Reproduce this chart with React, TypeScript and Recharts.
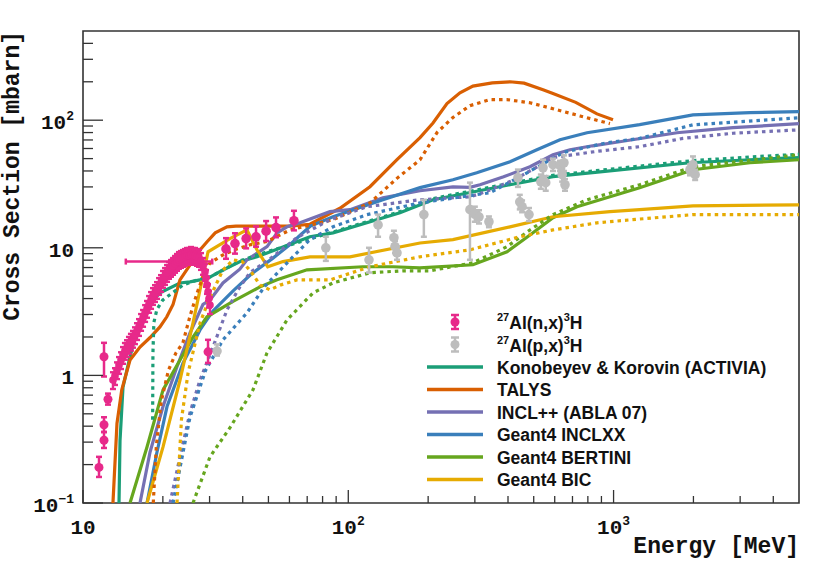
import { ComposedChart, Line, Scatter, XAxis, YAxis, ErrorBar, ReferenceArea } from 'recharts';

type Pt = [number, number];

// axis ticks
const xMajor = [10, 100, 1000];
const xMajorBase = ['10', '10', '10'];
const xMajorExp = ['', '2', '3'];
const xMinor = [20, 30, 40, 50, 60, 70, 80, 90, 200, 300, 400, 500, 600, 700, 800, 900, 2000, 3000, 4000];
const yMajor = [0.1, 1, 10, 100];
const yMajorBase = ['10', '1', '10', '10'];
const yMajorExp = ['\u22121', '', '', '2'];
const yMinor = [0.2, 0.3, 0.4, 0.5, 0.6, 0.7, 0.8, 0.9, 2, 3, 4, 5, 6, 7, 8, 9, 20, 30, 40, 50, 60, 70, 80, 90, 200, 300, 400];

// model curves: solid = (n,x), dotted = (p,x)
const activiaN: Pt[] = [[13.67, 0.1], [13.79, 0.31], [14.15, 0.81], [15.04, 1.4], [15.98, 2.27], [17.43, 3.45], [19.51, 4.43], [23.2, 5.3], [25.3, 5.4], [27.6, 5.6], [30.1, 5.9], [33.7, 6.7], [39.1, 7.8], [45.3, 8.5], [49.4, 9.1], [71.7, 12.2], [87.6, 13.1], [156.6, 18.8], [208.6, 23.8], [406.9, 31.2], [590.7, 36.1], [888.8, 39.4], [1941, 46.4], [3267, 49], [5000, 51]];
const activiaP: Pt[] = [[18.3, 0.45], [18.35, 1.5], [18.5, 2.6], [19.0, 3.3], [20, 3.9], [23.8, 5.1], [26.9, 5.6], [30.1, 5.9], [39.1, 7.9], [49.4, 9.3], [87.6, 13.3], [156.6, 19.2], [208.6, 24.3], [406.9, 32], [590.7, 37], [888.8, 40.5], [1941, 48], [3267, 51.5], [5000, 54]];
const talysN: Pt[] = [[12.97, 0.1], [13.43, 0.42], [14.0, 0.77], [15.04, 1.32], [16.4, 1.67], [17.9, 1.98], [19.5, 2.4], [20.7, 2.88], [21.85, 3.6], [23.2, 5.6], [27.6, 9.6], [29.3, 11.1], [31.5, 13.1], [34.9, 14.6], [37.7, 14.8], [46.5, 14.8], [60.3, 14.8], [71.7, 15.3], [93, 20.4], [120.7, 30.1], [152.6, 49], [186.4, 73], [208.6, 95], [235.5, 135], [263.6, 164], [295, 185], [349, 196], [407, 200], [460, 195], [542, 173], [591, 162], [720, 138], [866, 112], [995, 101]];
const talysP: Pt[] = [[18.4, 0.1], [18.9, 0.28], [19.7, 0.62], [21, 1.1], [22.4, 1.5], [23.8, 1.8], [25.3, 2.9], [26.9, 4.4], [28.3, 5.9], [30.1, 7.6], [33.7, 8.8], [38, 9.8], [43, 10.6], [49.4, 11.2], [60.3, 13.8], [87.6, 16.6], [120.7, 22.5], [152.6, 35], [186.4, 49], [216, 80], [248, 105], [287.5, 130], [342, 145], [396.5, 145], [484, 137], [590.7, 123], [747, 108], [969, 94]];
const inclN: Pt[] = [[16.4, 0.1], [17.89, 0.25], [20.03, 0.57], [22.61, 1.17], [25.31, 2.15], [28.34, 3.6], [30.1, 3.9], [33.7, 5.3], [39, 6.8], [41.5, 8.05], [49.4, 10.2], [53.9, 13.1], [58.75, 14.6], [65.77, 15.7], [85.3, 19.2], [101.5, 19.9], [135.1, 24.7], [186.4, 28], [248, 30], [287.5, 29.8], [313.6, 31.2], [385, 36], [484, 43.2], [591, 53.6], [685, 58.7], [833, 63], [1054, 67.8], [1734, 79.7], [2819, 87.4], [5000, 93.9]];
const inclP: Pt[] = [[21.28, 0.1], [23.21, 0.23], [25.31, 0.51], [27.61, 0.92], [30.9, 1.67], [34.9, 3.26], [38.4, 4.68], [42.6, 6.4], [50.7, 8.2], [64, 12], [85.3, 16.6], [117.6, 21], [186.4, 23.8], [287.5, 25.1], [330, 27.5], [420, 34], [515, 43], [591, 51], [866, 57], [1254, 62], [1827, 72], [2819, 79], [5000, 84]];
const inclxxN: Pt[] = [[17.43, 0.1], [19.0, 0.25], [20.74, 0.57], [23.82, 1.25], [27.61, 2.27], [30.9, 3.2], [36.8, 4.6], [43, 6.2], [52, 8.3], [60, 10.5], [66, 12.6], [72, 14.8], [87.6, 17.5], [135, 23.8], [186.4, 29.6], [248, 34.1], [305, 38.7], [407, 47.2], [514, 58.7], [628, 70.3], [794, 79.7], [1254, 92.2], [1992, 110], [3267, 114.6], [5000, 116.6]];
const inclxxP: Pt[] = [[21.85, 0.1], [25.31, 0.47], [29.0, 1.1], [33.7, 1.9], [41.5, 3.09], [48.2, 4.94], [60.3, 8.05], [71.7, 11.6], [87.6, 14.6], [117.6, 18.2], [186.4, 22.5], [342, 27], [443, 36], [650, 56], [944, 66.6], [1254, 72], [1992, 92], [5000, 104.6]];
const bertiniN: Pt[] = [[15.04, 0.1], [17.43, 0.275], [20.03, 0.77], [23.21, 1.32], [25.98, 2.0], [29.34, 2.88], [36.76, 3.8], [46.47, 4.94], [53.87, 5.61], [69.9, 6.72], [113.6, 7.1], [147.4, 7.1], [186, 6.97], [295, 7.36], [396.5, 9.3], [484, 12.6], [591, 17.2], [728, 21], [969, 25.1], [1254, 29.6], [1992, 40.9], [3267, 46.4], [5000, 49]];
const bertiniP: Pt[] = [[25.98, 0.1], [30.11, 0.23], [35.82, 0.39], [43.73, 0.77], [49.38, 1.5], [58.75, 2.72], [73.61, 4.43], [87.57, 5.31], [120.7, 6.37], [160, 6.6], [203, 6.6], [295, 7.63], [396.5, 10.2], [484, 13.8], [591, 18.2], [794, 23.8], [1254, 31.2], [1992, 43.2], [5000, 53.6]];
const bicN: Pt[] = [[17.43, 0.1], [20.03, 0.275], [23.21, 0.92], [25.98, 2.58], [27.61, 4.68], [29.6, 9.3], [35.8, 11.8], [41.5, 13.8], [45.3, 9.6], [49.7, 7.1], [56.7, 7.8], [71.7, 8.5], [101.5, 8.5], [186.4, 10.9], [248, 11.6], [407, 14.6], [591, 17.5], [969, 19.2], [1254, 19.9], [1992, 21.3], [5000, 21.7]];
const bicP: Pt[] = [[22.61, 0.1], [23.5, 0.45], [24.9, 1.05], [27.61, 2.58], [30.11, 4.1], [33.7, 6.7], [36.8, 8.05], [39.8, 7.8], [43, 6.5], [46.5, 5.1], [50.7, 4.68], [55.3, 5.1], [64, 5.6], [85.3, 5.6], [120.7, 7.1], [186, 8.5], [287.5, 9.64], [443, 12.2], [591, 13.8], [866, 15.7], [1254, 16.8], [1992, 18.2], [5000, 18.2]];

// 27Al(n,x)3H data
const nDense: Pt[] = [[12.97, 0.92], [13.2, 0.99], [13.43, 1.1], [13.67, 1.21], [13.91, 1.32], [14.15, 1.45], [14.39, 1.56], [14.65, 1.64], [14.9, 1.74], [15.16, 1.84], [15.43, 1.94], [15.7, 2.07], [15.98, 2.23], [16.26, 2.4], [16.55, 2.63], [16.84, 2.83], [17.14, 3.09], [17.43, 3.33], [17.74, 3.64], [18.05, 3.91], [18.36, 4.2], [18.68, 4.43], [19.01, 4.68], [19.35, 5.03], [19.68, 5.31], [20.03, 5.72], [20.38, 6.03], [20.74, 6.37], [21.1, 6.72], [21.47, 6.97], [21.85, 7.23], [22.23, 7.5], [22.61, 7.77], [23.0, 8.05], [23.41, 8.2], [23.82, 8.35], [24.24, 8.5], [24.66, 8.66], [25.09, 8.66], [25.53, 8.82], [25.98, 8.66], [26.43, 8.66], [26.9, 8.5], [27.37, 8.35], [27.85, 7.9], [28.34, 7.23], [28.83, 6.48], [29.09, 5.82], [29.34, 5.12], [29.6, 4.51], [29.85, 4.0], [30.11, 3.56]];
const nDenseRelErr = 0.15;
const nLow: Pt[] = [[11.49, 0.19], [12.0, 0.31], [12.0, 0.41], [12.42, 0.65], [12.0, 1.4], [29.6, 1.53]];
const nLowLo = [0.16, 0.27, 0.36, 0.59, 0.98, 1.25];
const nLowHi = [0.23, 0.36, 0.47, 0.72, 1.8, 1.9];
const nBig: Pt[] = [[34.6, 9.8], [37.4, 10.8], [41.2, 11.8], [44.9, 12.2], [49.0, 13.5], [53.4, 14.4], [62.4, 16.3]];
const nBigLo = [8.2, 9.0, 9.9, 10.2, 11.3, 12.1, 13.7];
const nBigHi = [11.9, 13.0, 14.2, 14.7, 16.2, 17.3, 19.5];
const nWide: Pt[] = [[21.5, 7.8]];
const nWideLo = [14.5];
const nWideHi = [30.7];

// 27Al(p,x)3H data
const pData: Pt[] = [[32.0, 1.55], [82.3, 10], [119.7, 8.05], [129.5, 15.1], [148.6, 12], [150, 10.2], [152.6, 9.14], [192.7, 18.2], [287.5, 19.9], [300, 18.3], [311, 17.5], [339, 16], [436, 35.4], [443, 22.9], [452, 21], [480, 18.2], [532, 32.9], [542, 42.4], [555, 32.4], [591, 44.8], [628, 44], [640, 37.4], [650, 46.4], [656, 31.2], [1941, 40.9], [1992, 44.8], [2030, 37.4]];
const pLo = [1.43, 7.9, 6.4, 12.2, 10.6, 9.1, 8.05, 12.2, 8.05, 16, 15.5, 14.5, 30, 20, 19, 16.2, 29, 35.4, 28, 40, 40, 33, 40, 28, 37, 40, 34];
const pHi = [1.75, 12.2, 10, 18.2, 13.6, 11.3, 10.2, 23.8, 32.4, 21, 19.7, 17.6, 41, 26, 23.5, 20.5, 37.5, 49, 36.5, 50, 48, 42, 53, 34.5, 45, 52, 41];

const PINK = '#e7298a';
const GRAY = '#bdbdbd';
const AX = '#333';
const MONO = '"Liberation Mono", "DejaVu Sans Mono", monospace';
const SANS = '"Liberation Sans", Arial, sans-serif';

const models = [
  { name: 'Konobeyev & Korovin (ACTIVIA)', color: '#1b9e77', n: activiaN, p: activiaP },
  { name: 'TALYS', color: '#d95f02', n: talysN, p: talysP },
  { name: 'INCL++ (ABLA 07)', color: '#7570b3', n: inclN, p: inclP },
  { name: 'Geant4 INCLXX', color: '#3a7fbb', n: inclxxN, p: inclxxP },
  { name: 'Geant4 BERTINI', color: '#66a61e', n: bertiniN, p: bertiniP },
  { name: 'Geant4 BIC', color: '#e6ab02', n: bicN, p: bicP },
];

const rows = (pts: Pt[]) => pts.map(([e, s]) => ({ e, s }));
const errRows = (pts: Pt[], lo: number[], hi: number[]) =>
  pts.map(([e, s], i) => ({ e, s, err: [s - lo[i], hi[i] - s] }));
const xErrRows = (pts: Pt[], lo: number[], hi: number[]) =>
  pts.map(([e, s], i) => ({ e, s, xerr: [e - lo[i], hi[i] - e] }));
const relRows = (pts: Pt[], r: number) => pts.map(([e, s]) => ({ e, s, err: [s * r, s * r] }));

const XTick = (props: any) => {
  const { x, y, payload } = props;
  const i = xMajor.indexOf(payload.value);
  const major = i >= 0;
  return (
    <g>
      <line x1={x} x2={x} y1={y} y2={y - (major ? 13 : 7)} stroke={AX} strokeWidth={1.3} />
      {major && (
        <text x={x} y={y + 31} textAnchor="middle" fontFamily={MONO} fontWeight="bold" fontSize={21} fill="#111">
          {xMajorBase[i]}
          {xMajorExp[i] && <tspan dy={-9} fontSize={13}>{xMajorExp[i]}</tspan>}
        </text>
      )}
    </g>
  );
};

const YTick = (props: any) => {
  const { x, y, payload } = props;
  const i = yMajor.indexOf(payload.value);
  const major = i >= 0;
  return (
    <g>
      <line x1={x} x2={x + (major ? 20 : 10)} y1={y} y2={y} stroke={AX} strokeWidth={1.3} />
      {major && (
        <text x={x - 9} y={y + 9} textAnchor="end" fontFamily={MONO} fontWeight="bold" fontSize={21} fill="#111">
          {yMajorBase[i]}
          {yMajorExp[i] && <tspan dy={-9} fontSize={13}>{yMajorExp[i]}</tspan>}
        </text>
      )}
    </g>
  );
};

const dot = (r: number, fill: string) => (p: any) => <circle cx={p.cx} cy={p.cy} r={r} fill={fill} />;

const DataMark = ({ x, y, color }: { x: number; y: number; color: string }) => (
  <g stroke={color} strokeWidth={2.5}>
    <line x1={x} x2={x} y1={y - 7} y2={y + 7} />
    <line x1={x - 4} x2={x + 4} y1={y - 7} y2={y - 7} />
    <line x1={x - 4} x2={x + 4} y1={y + 7} y2={y + 7} />
    <circle cx={x} cy={y} r={4.5} fill={color} stroke="none" />
  </g>
);

export default function App() {
  const legendTop = 322;
  const step = 22.5;
  return (
    <div style={{ position: 'absolute', left: 0, top: 0, width: 830, height: 565, background: '#fff' }}>
      <ComposedChart width={830} height={565} margin={{ top: 31, right: 31, bottom: 0, left: 0 }}>
        <XAxis
          dataKey="e"
          type="number"
          scale="log"
          domain={[10, 5000]}
          allowDataOverflow
          ticks={[...xMajor, ...xMinor]}
          interval={0}
          tick={<XTick />}
          tickLine={false}
          tickSize={0}
          tickMargin={0}
          axisLine={false}
          height={62}
        />
        <YAxis
          dataKey="s"
          type="number"
          scale="log"
          domain={[0.1, 500]}
          allowDataOverflow
          ticks={[...yMajor, ...yMinor]}
          interval={0}
          tick={<YTick />}
          tickLine={false}
          tickSize={0}
          tickMargin={0}
          axisLine={false}
          width={83}
        />
        <ReferenceArea x1={10} x2={5000} y1={0.1} y2={500} fill="none" stroke={AX} strokeWidth={1.6} />
        {models.map((m) => (
          <Line
            key={m.name + 'n'}
            data={rows(m.n)}
            dataKey="s"
            type="linear"
            stroke={m.color}
            strokeWidth={3.2}
            dot={false}
            activeDot={false}
            isAnimationActive={false}
          />
        ))}
        {models.map((m) => (
          <Line
            key={m.name + 'p'}
            data={rows(m.p)}
            dataKey="s"
            type="linear"
            stroke={m.color}
            strokeWidth={3.2}
            strokeDasharray="3.5 4"
            dot={false}
            activeDot={false}
            isAnimationActive={false}
          />
        ))}
        <Scatter data={errRows(pData, pLo, pHi)} shape={dot(4.8, GRAY)} isAnimationActive={false}>
          <ErrorBar dataKey="err" direction="y" width={3} stroke={GRAY} strokeWidth={2.5} />
        </Scatter>
        <Scatter data={xErrRows(nWide, nWideLo, nWideHi)} shape={dot(3, PINK)} isAnimationActive={false}>
          <ErrorBar dataKey="xerr" direction="x" width={3} stroke={PINK} strokeWidth={2.5} />
        </Scatter>
        <Scatter data={relRows(nDense, nDenseRelErr)} shape={dot(3.8, PINK)} isAnimationActive={false}>
          <ErrorBar dataKey="err" direction="y" width={3} stroke={PINK} strokeWidth={2.4} />
        </Scatter>
        <Scatter data={errRows(nLow, nLowLo, nLowHi)} shape={dot(4.5, PINK)} isAnimationActive={false}>
          <ErrorBar dataKey="err" direction="y" width={3} stroke={PINK} strokeWidth={2.5} />
        </Scatter>
        <Scatter data={errRows(nBig, nBigLo, nBigHi)} shape={dot(4.8, PINK)} isAnimationActive={false}>
          <ErrorBar dataKey="err" direction="y" width={3} stroke={PINK} strokeWidth={2.5} />
        </Scatter>
      </ComposedChart>
      <svg width={830} height={565} style={{ position: 'absolute', left: 0, top: 0, pointerEvents: 'none' }}>
        <text x={799} y={553} textAnchor="end" fontFamily={MONO} fontWeight="bold" fontSize={23} fill="#111">
          Energy [MeV]
        </text>
        <text
          transform="translate(19,31) rotate(-90)"
          textAnchor="end"
          fontFamily={MONO}
          fontWeight="bold"
          fontSize={23}
          fill="#111"
        >
          Cross Section [mbarn]
        </text>
        <DataMark x={455} y={legendTop} color={PINK} />
        <DataMark x={455} y={legendTop + step} color={GRAY} />
        <text x={497} y={legendTop + 7} fontFamily={SANS} fontWeight="bold" fontSize={17.5} fill="#111">
          <tspan fontSize={11} dy={-8}>27</tspan>
          <tspan dy={8}>Al(n,x)</tspan>
          <tspan fontSize={11} dy={-8}>3</tspan>
          <tspan dy={8}>H</tspan>
        </text>
        <text x={497} y={legendTop + step + 7} fontFamily={SANS} fontWeight="bold" fontSize={17.5} fill="#111">
          <tspan fontSize={11} dy={-8}>27</tspan>
          <tspan dy={8}>Al(p,x)</tspan>
          <tspan fontSize={11} dy={-8}>3</tspan>
          <tspan dy={8}>H</tspan>
        </text>
        {models.map((m, i) => {
          const y = legendTop + step * (i + 2);
          return (
            <g key={m.name}>
              <line x1={427} x2={483} y1={y} y2={y} stroke={m.color} strokeWidth={3.5} />
              <text x={497} y={y + 6.5} fontFamily={SANS} fontWeight="bold" fontSize={17.5} fill="#111">
                {m.name}
              </text>
            </g>
          );
        })}
      </svg>
    </div>
  );
}
